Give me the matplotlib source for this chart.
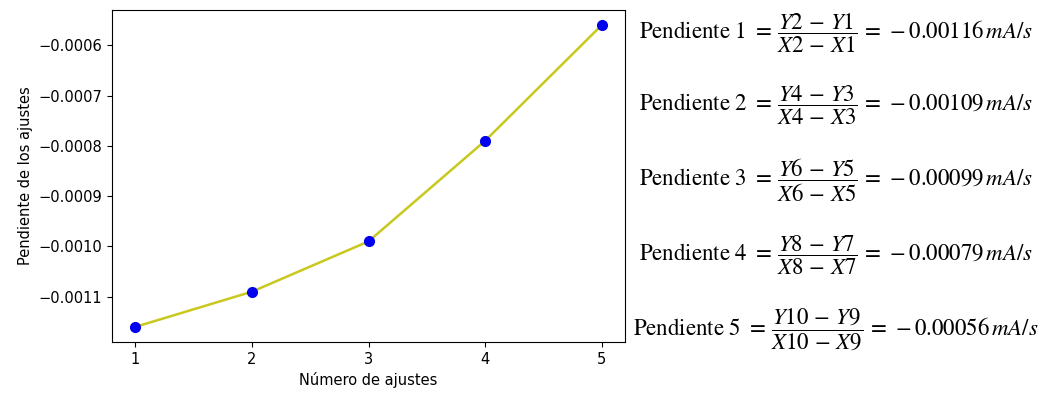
import matplotlib.pyplot as plt

# Datos
ajustes = [1, 2, 3, 4, 5]
pendientes = [-0.00116, -0.00109, -0.00099, -0.00079, -0.00056]
etiquetas_y = ['Y2', 'Y4', 'Y6', 'Y8', 'Y10']
etiquetas_y0 = ['Y1', 'Y3', 'Y5', 'Y7', 'Y9']
etiquetas_x = ['X2', 'X4', 'X6', 'X8', 'X10']
etiquetas_x0 = ['X1', 'X3', 'X5', 'X7', 'X9']

plt.rcParams['mathtext.fontset'] = 'stix'

fig = plt.figure(figsize=(10.44, 3.94), dpi=100)
ax = fig.add_axes([0.1073, 0.132, 0.4914, 0.8426])

ax.plot(ajustes, pendientes, color='#c8c81e', linewidth=1.8)
ax.plot(ajustes, pendientes, 'o', color='#0000ee', markersize=7)
ax.set_xticks(ajustes)
ax.tick_params(labelsize=10.5)
ax.set_xlabel('Número de ajustes', fontsize=10.5)
ax.set_ylabel('Pendiente de los ajustes', fontsize=10.5)


def simbolo(s):
    # letra en cursiva, número recto
    return s[0] + r'\mathrm{' + s[1:] + '}'


# Ecuaciones a la derecha
y_pos = [0.915, 0.732, 0.543, 0.352, 0.165]
for i in range(len(ajustes)):
    texto = (r'Pendiente %d $=\, \dfrac{%s \,-\, %s}{%s \,-\, %s} \,=\, -\mathrm{%.5f}\,mA/s$'
             % (ajustes[i], simbolo(etiquetas_y[i]), simbolo(etiquetas_y0[i]),
                simbolo(etiquetas_x[i]), simbolo(etiquetas_x0[i]), abs(pendientes[i])))
    fig.text(0.8008, y_pos[i], texto, ha='center', va='center', fontsize=16.5,
             family='STIXGeneral')

plt.savefig('out.png', dpi=100)
